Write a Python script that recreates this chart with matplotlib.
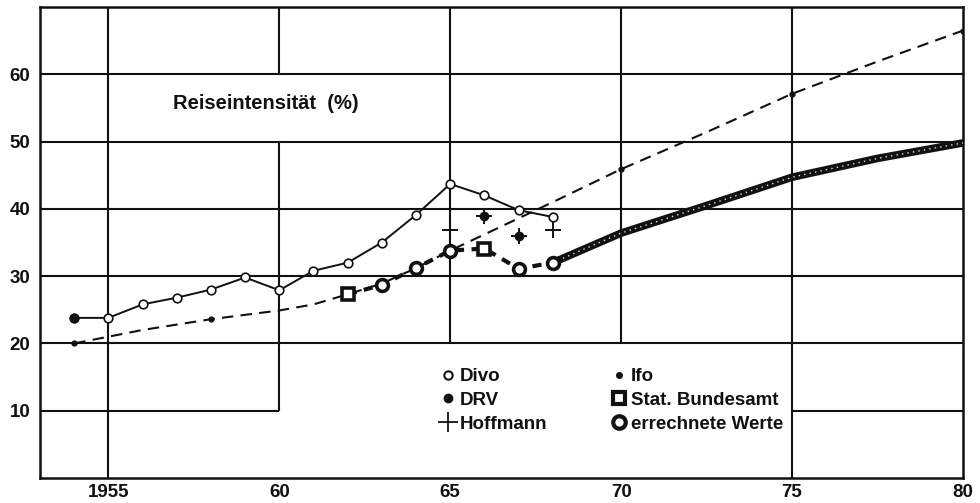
import numpy as np
import matplotlib
matplotlib.use("Agg")
from matplotlib import pyplot as plt
from matplotlib.lines import Line2D

plt.rcParams['font.family'] = ['Liberation Sans', 'DejaVu Sans']
plt.rcParams['font.weight'] = 'bold'

# Divo (offene Kreise, durchgezogene Linie)
divo_years = [1954, 1955, 1956, 1957, 1958, 1959, 1960, 1961, 1962, 1963, 1964, 1965, 1966, 1967, 1968]
divo_vals = [23.8, 23.8, 25.8, 26.8, 28.0, 29.8, 27.9, 30.8, 32.0, 35.0, 39.1, 43.7, 42.0, 39.8, 38.8]

# DRV (Punkte)
drv_years = [1954, 1966, 1967]
drv_vals = [23.8, 38.9, 36.0]

# Hoffmann (Kreuze)
hoff_years = [1965, 1966, 1967, 1968]
hoff_vals = [36.9, 38.9, 36.0, 36.9]

# Ifo (kleine Punkte) und gestrichelte Trendkurve
ifo_years = [1954, 1958, 1970, 1975, 1980]
ifo_vals = [20.0, 23.6, 45.9, 57.1, 66.5]
ifo_trend_years = [1954, 1956, 1958, 1960, 1961, 1962, 1963, 1964, 1965, 1966, 1967, 1968, 1970, 1972.5, 1975, 1977.5, 1980]
ifo_trend_vals = [20.0, 22.0, 23.6, 24.9, 25.8, 27.3, 28.9, 31.2, 33.8, 36.2, 38.6, 41.0, 45.9, 51.4, 57.1, 61.9, 66.5]

# Stat. Bundesamt (Quadrate)
stat_years = [1962, 1966]
stat_vals = [27.3, 34.1]

# errechnete Werte (dicke Kreise) und Projektion
calc_years = [1963, 1964, 1965, 1967, 1968]
calc_vals = [28.7, 31.2, 33.8, 31.1, 32.0]
proj_years = [1968, 1970, 1972.5, 1975, 1977.5, 1980]
proj_vals = [32.0, 36.4, 40.5, 44.7, 47.5, 49.8]

x_ticks = [1955, 1960, 1965, 1970, 1975, 1980]
x_labels = ['1955', '60', '65', '70', '75', '80']
y_ticks = [10, 20, 30, 40, 50, 60]

ink = '#111111'

fig = plt.figure(figsize=(9.8, 5.03), dpi=100)
ax = fig.add_axes([40 / 980, 25 / 503, 923 / 980, 471 / 503])
ax.set_xlim(1953, 1980)
ax.set_ylim(0, 70)

# Gitter mit Aussparungen fuer Titel und Legende
glw = 1.5
ax.vlines(1955, 0, 70, color=ink, lw=glw, zorder=1)
ax.vlines(1975, 0, 70, color=ink, lw=glw, zorder=1)
ax.vlines(1960, 10, 50, color=ink, lw=glw, zorder=1)
ax.vlines(1960, 60, 70, color=ink, lw=glw, zorder=1)
ax.vlines([1965, 1970], 20, 70, color=ink, lw=glw, zorder=1)
ax.hlines([20, 30, 40, 50, 60], 1953, 1980, color=ink, lw=glw, zorder=1)
ax.hlines(10, 1953, 1960, color=ink, lw=glw, zorder=1)
ax.hlines(10, 1975, 1980, color=ink, lw=glw, zorder=1)

# Ifo-Trend
ax.plot(ifo_trend_years, ifo_trend_vals, color=ink, lw=1.5, ls=(0, (5.5, 3.5)), zorder=2)
ax.plot(ifo_years, ifo_vals, ls='none', marker='o', ms=3.5, color=ink, zorder=5)

# Divo
ax.plot(divo_years, divo_vals, color=ink, lw=1.4, zorder=3)
ax.plot(divo_years, divo_vals, ls='none', marker='o', ms=6.2, mfc='white', mec=ink, mew=1.2, zorder=4)

# DRV, Hoffmann
ax.plot(drv_years, drv_vals, ls='none', marker='o', ms=6, color=ink, zorder=5)
ax.plot(hoff_years, hoff_vals, ls='none', marker='+', ms=12, mew=1.4, color=ink, zorder=5)

# errechnete Werte: Verbindung, Projektion, Marker
conn = sorted(zip(stat_years + calc_years, stat_vals + calc_vals))
ax.plot([c[0] for c in conn], [c[1] for c in conn], color=ink, lw=3.0, ls=(0, (2.2, 1.8)), zorder=3)
ax.plot(proj_years, proj_vals, color=ink, lw=5.5, solid_capstyle='round', zorder=3)
ax.plot(proj_years, proj_vals, color='#dddddd', lw=1.0, ls=(0, (1, 3)), zorder=3)
ax.plot(calc_years, calc_vals, ls='none', marker='o', ms=8.5, mfc='white', mec=ink, mew=2.6, zorder=6)
ax.plot(stat_years, stat_vals, ls='none', marker='s', ms=8.5, mfc='white', mec=ink, mew=2.6, zorder=6)

ax.text(1956.9, 55.7, 'Reiseintensität  (%)', fontsize=14.5, fontweight='bold', color=ink,
        ha='left', va='center')

handles = [
    Line2D([], [], ls='none', marker='o', ms=6, mfc='white', mec=ink, mew=1.5),
    Line2D([], [], ls='none', marker='o', ms=6, color=ink),
    Line2D([], [], ls='none', marker='+', ms=14, mew=1.3, color=ink),
    Line2D([], [], ls='none', marker='o', ms=4, color=ink),
    Line2D([], [], ls='none', marker='s', ms=9, mfc='white', mec=ink, mew=3),
    Line2D([], [], ls='none', marker='o', ms=9, mfc='white', mec=ink, mew=3),
]
labels = ['Divo', 'DRV', 'Hoffmann', 'Ifo', 'Stat. Bundesamt', 'errechnete Werte']
leg = ax.legend(handles, labels, ncol=2, frameon=False, loc='upper left',
                bbox_to_anchor=(0.4355, 0.2335), borderpad=0, borderaxespad=0,
                handlelength=0.6, handletextpad=0.35, columnspacing=3.5,
                labelspacing=0.35, prop={'size': 13.5, 'weight': 'bold'})
for t in leg.get_texts():
    t.set_color(ink)

ax.set_xticks(x_ticks)
ax.set_xticklabels(x_labels)
ax.set_yticks(y_ticks)
ax.tick_params(length=0, labelsize=13.5, colors=ink)
ax.tick_params(axis='x', pad=4)
ax.tick_params(axis='y', pad=7)
for lab in ax.get_xticklabels() + ax.get_yticklabels():
    lab.set_fontweight('bold')
for sp in ax.spines.values():
    sp.set_linewidth(1.8)
    sp.set_color(ink)

fig.savefig('out.png', dpi=100)
